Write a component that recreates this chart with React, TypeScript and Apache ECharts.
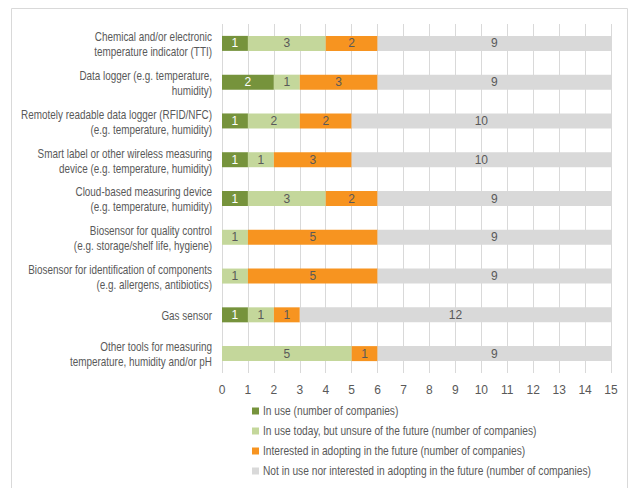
import React, { useEffect, useRef } from "react";
import * as echarts from "echarts";

const categories = [
  "Chemical and/or electronic\ntemperature indicator (TTI)",
  "Data logger (e.g. temperature,\nhumidity)",
  "Remotely readable data logger (RFID/NFC)\n(e.g. temperature, humidity)",
  "Smart label or other wireless measuring\ndevice (e.g. temperature, humidity)",
  "Cloud-based measuring device\n(e.g. temperature, humidity)",
  "Biosensor for quality control\n(e.g. storage/shelf life, hygiene)",
  "Biosensor for identification of components\n(e.g. allergens, antibiotics)",
  "Gas sensor",
  "Other tools for measuring\ntemperature, humidity and/or pH",
];

const inUse = [1, 2, 1, 1, 1, 0, 0, 1, 0];
const inUseUnsure = [3, 1, 2, 1, 3, 1, 1, 1, 5];
const interested = [2, 3, 2, 3, 2, 5, 5, 1, 1];
const notInUse = [9, 9, 10, 10, 9, 9, 9, 12, 9];

const seriesNames = [
  "In use (number of companies)",
  "In use today, but unsure of the future (number of companies)",
  "Interested in adopting in the future (number of companies)",
  "Not in use nor interested in adopting in the future (number of companies)",
];

const xTicks = { min: 0, max: 15, interval: 1 };

const FONT = "'Liberation Sans', Arial, sans-serif";
const TEXT = "#595959";
const COLORS = ["#76933c", "#c4d79b", "#f79420", "#d9d9d9"];
const LABEL_COLORS = ["#ffffff", TEXT, TEXT, TEXT];
// horizontal squeeze that gives the text a narrow-face look
const NARROW_AXIS = 0.825;
const NARROW_LEGEND = 0.85;

export default function App() {
  const ref = useRef<HTMLDivElement>(null);

  useEffect(() => {
    if (!ref.current) return;
    const chart = echarts.init(ref.current, undefined, { renderer: "svg" });
    const datasets = [inUse, inUseUnsure, interested, notInUse];

    chart.setOption({
      animation: false,
      textStyle: { fontFamily: FONT },
      grid: { left: 222, right: 20, top: 24, bottom: 115, outerBoundsMode: "none", containLabel: false },
      xAxis: {
        type: "value",
        min: xTicks.min,
        max: xTicks.max,
        interval: xTicks.interval,
        axisLine: { show: false },
        axisTick: { show: false },
        splitLine: { show: true, lineStyle: { color: "#d9d9d9", width: 1 } },
        axisLabel: { color: TEXT, fontSize: 12, margin: 11, fontFamily: FONT },
      },
      yAxis: {
        type: "category",
        inverse: true,
        data: categories,
        axisLine: { show: false },
        axisTick: { show: false },
        axisLabel: { show: false },
      },
      series: datasets.map((d, i) => ({
        name: seriesNames[i],
        type: "bar",
        stack: "total",
        barWidth: 15,
        data: d,
        itemStyle: { color: COLORS[i] },
        label: {
          show: true,
          position: "inside",
          color: LABEL_COLORS[i],
          fontSize: 12,
          fontFamily: FONT,
          formatter: (p: any) => (p.value ? String(p.value) : ""),
        },
      })),
    });

    // category names, placed on the axis' own band centres
    const yLabels = categories.map((c, i) => {
      const y = chart.convertToPixel({ yAxisIndex: 0 }, i) as number;
      return {
        type: "text",
        x: 212,
        y: y + 1,
        scaleX: NARROW_AXIS,
        silent: true,
        style: {
          text: c,
          x: 0,
          y: 0,
          fill: TEXT,
          fontSize: 12,
          fontFamily: FONT,
          lineHeight: 15,
          align: "right",
          verticalAlign: "middle",
        },
      };
    });

    const legendItems = seriesNames.flatMap((name, i) => [
      {
        type: "rect",
        silent: true,
        shape: { x: 252, y: 407.5 + i * 20, width: 7, height: 7 },
        style: { fill: COLORS[i] },
      },
      {
        type: "text",
        x: 263,
        y: 411 + i * 20,
        scaleX: NARROW_LEGEND,
        silent: true,
        style: {
          text: name,
          x: 0,
          y: 0,
          fill: TEXT,
          fontSize: 12,
          fontFamily: FONT,
          align: "left",
          verticalAlign: "middle",
        },
      },
    ]);

    chart.setOption({
      graphic: [
        {
          type: "rect",
          silent: true,
          shape: { x: 11.5, y: 8.5, width: 616, height: 500 },
          style: { fill: "none", stroke: "#d9d9d9", lineWidth: 1 },
        },
        ...yLabels,
        ...legendItems,
      ],
    });

    return () => chart.dispose();
  }, []);

  return <div ref={ref} style={{ width: 631, height: 488, position: "absolute", left: 0, top: 0 }} />;
}
